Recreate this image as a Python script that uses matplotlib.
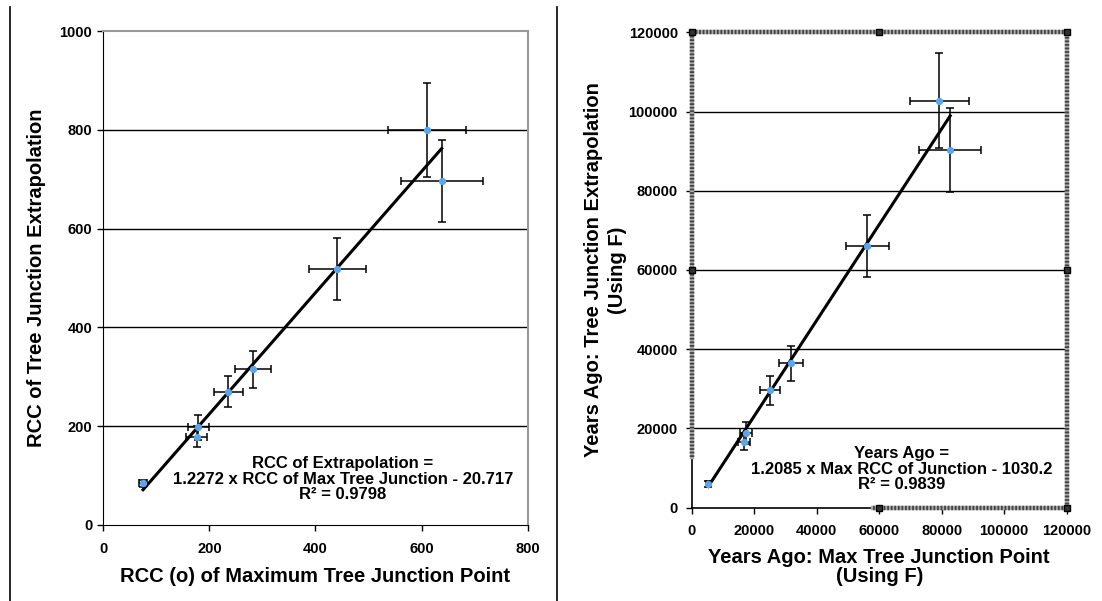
import numpy as np
import matplotlib
matplotlib.use("Agg")
import matplotlib.pyplot as plt
from matplotlib.lines import Line2D

plt.rcParams['font.family'] = ['Liberation Sans', 'DejaVu Sans']
plt.rcParams['font.weight'] = 'bold'

# Left chart: RCC values
x_rcc = [75, 176, 179, 236, 282, 441, 610, 638]
y_rcc = [84, 179, 198, 270, 315, 518, 800, 697]
xerr_rcc = [8, 20, 20, 28, 34, 54, 74, 77]
yerr_rcc = [7, 22, 25, 31, 38, 63, 95, 83]
slope_rcc, icpt_rcc = 1.2272, -20.717

# Right chart: years ago
x_yrs = [5300, 16700, 17400, 25100, 31700, 56200, 79200, 82700]
y_yrs = [6000, 16700, 18900, 29600, 36500, 66100, 102700, 90300]
xerr_yrs = [600, 2000, 2000, 3200, 3800, 6800, 9400, 9900]
yerr_yrs = [700, 2100, 2800, 3600, 4400, 7900, 12000, 10700]
slope_yrs, icpt_yrs = 1.2085, -1030.2

rcc_ticks = [0, 200, 400, 600, 800]
rcc_yticks = [0, 200, 400, 600, 800, 1000]
yrs_ticks = [0, 20000, 40000, 60000, 80000, 100000, 120000]

pt_color = '#5aa5f0'

fig = plt.figure(figsize=(11.02, 6.01), dpi=100)

def scatter_fit(ax, x, y, xe, ye, slope, icpt):
    ax.errorbar(x, y, xerr=xe, yerr=ye, fmt='none', ecolor='black',
                elinewidth=1.1, capsize=3, capthick=1.1, zorder=3)
    xs = np.array([min(x), max(x)])
    ax.plot(xs, slope * xs + icpt, color='black', lw=2.2, zorder=4)
    ax.plot(x, y, 'o', ms=4.2, color=pt_color, mec=pt_color, zorder=5)

# ---- left chart
ax1 = fig.add_axes([0.0937, 0.1265, 0.3851, 0.8219])
scatter_fit(ax1, x_rcc, y_rcc, xerr_rcc, yerr_rcc, slope_rcc, icpt_rcc)
ax1.set_xlim(0, 800)
ax1.set_ylim(0, 1000)
ax1.set_xticks(rcc_ticks)
ax1.set_yticks(rcc_yticks)
for v in rcc_yticks[1:-1]:
    ax1.axhline(v, color='black', lw=1, zorder=1)
ax1.spines['top'].set_color('#999999')
ax1.spines['right'].set_color('#999999')
ax1.spines['top'].set_linewidth(1.5)
ax1.spines['right'].set_linewidth(1.5)
ax1.tick_params(direction='out', length=4, width=1, labelsize=10.5)
ax1.tick_params(axis='x', pad=8)
ax1.tick_params(axis='y', pad=4)
for lab in ax1.get_xticklabels() + ax1.get_yticklabels():
    lab.set_fontweight('bold')
ax1.set_xlabel('RCC (o) of Maximum Tree Junction Point', fontsize=14.5,
               fontweight='bold', labelpad=8)
ax1.set_ylabel('RCC of Tree Junction Extrapolation', fontsize=14.5,
               fontweight='bold', labelpad=10)
ax1.text(0.565, 0.093, 'RCC of Extrapolation =\n1.2272 x RCC of Max Tree Junction - 20.717\nR² = 0.9798',
         transform=ax1.transAxes, ha='center', va='center', fontsize=12,
         fontweight='bold', linespacing=1.02)

# ---- right chart
ax2 = fig.add_axes([0.6277, 0.1552, 0.3403, 0.7911])
scatter_fit(ax2, x_yrs, y_yrs, xerr_yrs, yerr_yrs, slope_yrs, icpt_yrs)
ax2.set_xlim(0, 120000)
ax2.set_ylim(0, 120000)
ax2.set_xticks(yrs_ticks)
ax2.set_yticks(yrs_ticks)
for v in yrs_ticks[1:-1]:
    ax2.axhline(v, color='black', lw=1, zorder=1)
for s in ax2.spines.values():
    s.set_visible(False)
ax2.tick_params(direction='out', length=4, width=1, labelsize=10.5)
ax2.tick_params(axis='x', pad=8)
ax2.tick_params(axis='y', pad=6)
for lab in ax2.get_xticklabels() + ax2.get_yticklabels():
    lab.set_fontweight('bold')
ax2.set_xlabel('Years Ago: Max Tree Junction Point\n(Using F)', fontsize=14.5,
               fontweight='bold', labelpad=7, linespacing=1.0)
ax2.set_ylabel('Years Ago: Tree Junction Extrapolation\n(Using F)', fontsize=14.5,
               fontweight='bold', labelpad=1, linespacing=1.35)
ax2.text(0.56, 0.081, 'Years Ago =\n1.2085 x Max RCC of Junction - 1030.2\nR² = 0.9839',
         transform=ax2.transAxes, ha='center', va='center', fontsize=12,
         fontweight='bold', linespacing=1.02)

# solid axis parts
tr = ax2.transAxes
ax2.add_line(Line2D([0, 0], [0, 0.107], transform=tr, color='black', lw=1.2, clip_on=False))
ax2.add_line(Line2D([0, 0.483], [0, 0], transform=tr, color='black', lw=1.2, clip_on=False))
# hatched selection frame
frame_segs = [([0, 1], [1, 1]), ([1, 1], [0, 1]), ([0, 0], [0.107, 1]), ([0.483, 1], [0, 0])]
for xs, ys in frame_segs:
    ax2.add_line(Line2D(xs, ys, transform=tr, color='#aaaaaa', lw=3.2, clip_on=False, zorder=6))
    ax2.add_line(Line2D(xs, ys, transform=tr, color='#444444', lw=3.2, clip_on=False,
                        ls=(0, (0.4, 0.4)), zorder=6))
hx = [0, 0.5, 1, 1, 1, 0.5, 0]
hy = [1, 1, 1, 0.5, 0, 0, 0.5]
ax2.plot(hx, hy, 's', ms=5, color='black', mfc='#333333', transform=tr,
         clip_on=False, zorder=7)

# divider lines
fig.add_artist(Line2D([10 / 1102, 10 / 1102], [0, 1 - 7 / 601], color='black', lw=1.2))
fig.add_artist(Line2D([557 / 1102, 557 / 1102], [0, 1 - 7 / 601], color='black', lw=1.2))

fig.savefig('out.png', dpi=100)
